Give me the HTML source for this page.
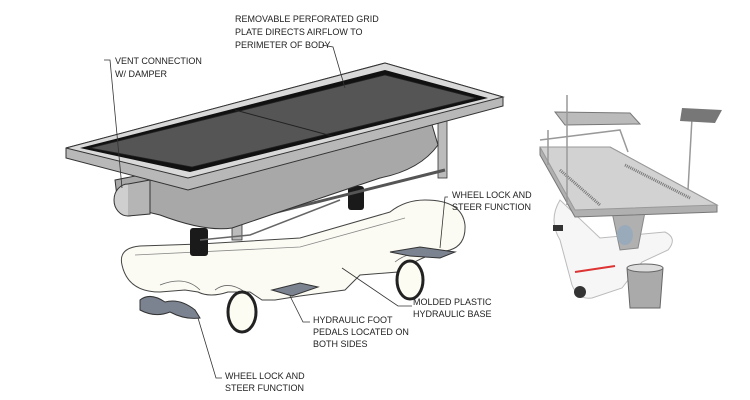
<!DOCTYPE html>
<html><head><meta charset="utf-8"><style>
html,body{margin:0;padding:0;background:#fff;}
svg{display:block}
text{font-family:"Liberation Sans",sans-serif;font-size:9px;fill:#222;}
</style></head><body>
<svg width="750" height="400" viewBox="0 0 750 400" xmlns="http://www.w3.org/2000/svg">
<rect width="750" height="400" fill="#fff"/>
<!-- base (white plastic) -->
<path d="M122,265 Q118,248 140,246 L200,244 L300,238 L390,212 Q405,200 425,200 Q462,200 465,225 Q466,245 450,250 L430,255 Q412,262 398,272 L360,275 L345,290 L300,296 L275,300 L262,300 L250,292 L228,292 Q210,298 198,292 L185,290 L160,292 Q128,292 122,265 Z" fill="#fbfbf3" stroke="#444" stroke-width="1"/>
<path d="M135,255 L300,247 L405,218" fill="none" stroke="#888" stroke-width="0.8"/>
<path d="M160,285 Q185,275 200,290 M215,290 Q228,280 245,292 M395,262 Q410,250 430,255" fill="none" stroke="#666" stroke-width="0.8"/>
<!-- wheels -->
<ellipse cx="242" cy="312" rx="14" ry="20" fill="#fdfcf3" stroke="#222" stroke-width="3"/>
<ellipse cx="410" cy="280" rx="13" ry="19" fill="#fdfcf3" stroke="#222" stroke-width="3"/>
<!-- pedals -->
<path d="M140,300 Q150,292 165,302 Q180,298 195,310 L200,318 Q185,320 170,312 Q155,318 140,310 Z" fill="#7b8390" stroke="#333"/>
<path d="M272,290 L300,283 L318,287 L292,296 Z" fill="#7b8390" stroke="#333"/>
<path d="M390,252 L420,247 L455,252 L440,258 L410,256 Z" fill="#7b8390" stroke="#333"/>
<!-- bellows -->
<rect x="190" y="228" width="18" height="28" rx="3" fill="#1a1a1a"/>
<rect x="348" y="186" width="16" height="24" rx="3" fill="#1a1a1a"/>
<!-- legs & frame -->
<rect x="232" y="178" width="10" height="62" fill="#bbb" stroke="#333" stroke-width="0.8"/>
<rect x="438" y="118" width="9" height="60" fill="#bbb" stroke="#333" stroke-width="0.8"/>
<path d="M245,220 L445,170" stroke="#555" stroke-width="3"/>
<path d="M200,240 L250,235 L340,200" fill="none" stroke="#666" stroke-width="1.5"/>
<!-- tub -->
<path d="M115,180 L430,118 L438,145 Q420,170 380,178 L232,228 Q205,232 160,215 L118,205 Z" fill="#a8a8a8" stroke="#333" stroke-width="1"/>
<!-- vent -->
<ellipse cx="128" cy="200" rx="14" ry="16" fill="#cfcfcf" stroke="#333"/>
<path d="M128,184 L150,180 L150,214 L128,216" fill="#b5b5b5" stroke="#333"/>
<!-- tray frame -->
<path d="M66,148 L385,63 L503,97 L503,106 L188,190 L66,158 Z" fill="#b8b8b8" stroke="#333" stroke-width="1"/>
<path d="M66,148 L385,63 L503,97 L188,178 Z" fill="#d9d9d9" stroke="#333" stroke-width="1"/>
<path d="M80,148 L385,70 L488,98 L190,172 Z" fill="#111"/>
<path d="M90,148 L385,75 L476,98 L192,167 Z" fill="#555" stroke="#222" stroke-width="0.8"/>
<path d="M235,110 L332,136" stroke="#222" stroke-width="1"/>
<!-- labels & leaders -->
<g stroke="#333" stroke-width="0.8" fill="none">
<path d="M322,45 L333,47 L345,88"/>
<path d="M104,60 L110,60 L122,188"/>
<path d="M448,197 L445,197 L440,248"/>
<path d="M412,306 L398,306 L342,268"/>
<path d="M310,322 L303,322 L290,296"/>
<path d="M222,378 L216,378 L198,318"/>
</g>
<text x="235" y="22">REMOVABLE PERFORATED GRID</text>
<text x="235" y="35">PLATE DIRECTS AIRFLOW TO</text>
<text x="235" y="48">PERIMETER OF BODY</text>
<text x="115" y="64">VENT CONNECTION</text>
<text x="115" y="77">W/ DAMPER</text>
<text x="452" y="198">WHEEL LOCK AND</text>
<text x="452" y="210">STEER FUNCTION</text>
<text x="413" y="305">MOLDED PLASTIC</text>
<text x="413" y="317">HYDRAULIC BASE</text>
<text x="313" y="323">HYDRAULIC FOOT</text>
<text x="313" y="335">PEDALS LOCATED ON</text>
<text x="313" y="347">BOTH SIDES</text>
<text x="225" y="379">WHEEL LOCK AND</text>
<text x="225" y="391">STEER FUNCTION</text>
<!-- right photo -->
<path d="M560,200 Q548,220 560,240 L572,285 Q578,300 592,298 L622,288 L642,262 L668,250 Q678,238 665,232 L600,238 Z" fill="#f6f6f6" stroke="#bbb"/>
<path d="M575,272 L615,266" stroke="#d33" stroke-width="2"/>
<circle cx="580" cy="292" r="6" fill="#333"/>
<rect x="553" y="225" width="10" height="6" fill="#333"/>
<path d="M612,212 L645,212 L638,248 L620,250 Z" fill="#b0b0b0" stroke="#888"/>
<ellipse cx="625" cy="235" rx="8" ry="10" fill="#9ab"/>
<path d="M540,147 L610,147 L717,205 L717,212 L575,217 L540,155 Z" fill="#b0b0b0" stroke="#777"/>
<path d="M540,147 L610,147 L717,205 L575,210 Z" fill="#d2d2d2" stroke="#999"/>
<path d="M560,170 L600,205 M625,165 L690,198" stroke="#777" stroke-width="3" stroke-dasharray="1 1"/>
<path d="M555,112 L630,113 L640,124 L565,125 Z" fill="#bbb" stroke="#777"/>
<path d="M567,95 L567,205 M540,140 L620,130 L628,152 M692,118 L688,190 M548,130 L548,165" stroke="#999" stroke-width="1.5" fill="none"/>
<path d="M682,108 L722,110 L715,123 L680,121 Z" fill="#777"/>
<path d="M627,268 L663,268 L660,308 L630,308 Z" fill="#aaa" stroke="#666"/>
<ellipse cx="645" cy="268" rx="18" ry="4" fill="#ddd" stroke="#666"/>
</svg>
</body></html>
